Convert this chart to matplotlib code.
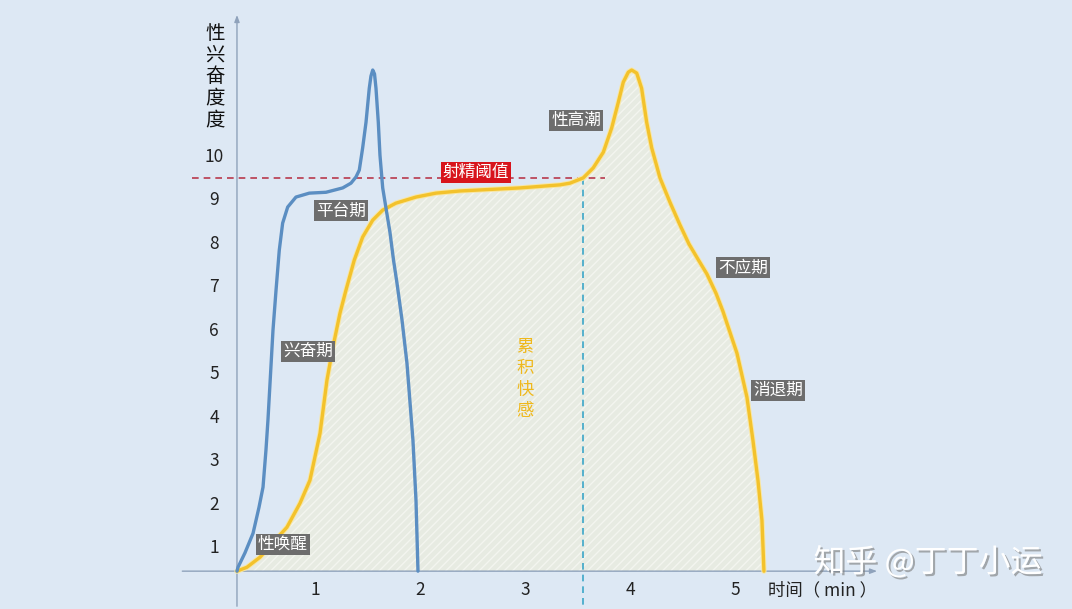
import matplotlib
matplotlib.use("Agg")
import matplotlib.pyplot as plt
import matplotlib.patheffects as pe

plt.rcParams['font.family'] = ['Noto Sans CJK SC', 'DejaVu Sans']
plt.rcParams['hatch.linewidth'] = 1.0

# 蓝色曲线（男性）
blue_x = [0.257, 0.267, 0.333, 0.410, 0.467, 0.505, 0.533, 0.552, 0.600, 0.629, 0.660, 0.692,
          0.740, 0.819, 0.946, 1.105, 1.264, 1.343, 1.390, 1.422, 1.454, 1.486, 1.517,
          1.533, 1.550, 1.567, 1.581, 1.603, 1.619, 1.645, 1.676, 1.714, 1.748, 1.781,
          1.829, 1.876, 1.933, 1.962, 1.981]
blue_y = [0.47, 0.56, 0.89, 1.34, 1.94, 2.40, 3.25, 3.94, 6.01, 6.93, 7.85, 8.47,
          8.84, 9.07, 9.16, 9.18, 9.28, 9.39, 9.53, 9.69, 10.20, 10.79, 11.57,
          11.85, 11.99, 11.90, 11.57, 10.79, 10.03, 9.28, 8.82, 8.26, 7.62, 7.09,
          6.24, 5.25, 3.48, 2.10, 0.47]

# 黄色曲线（累积快感）
yellow_x = [0.257, 0.352, 0.476, 0.733, 0.857, 0.952, 1.048, 1.114, 1.171, 1.238, 1.295,
            1.374, 1.454, 1.550, 1.645, 1.771, 1.962, 2.152, 2.381, 2.952, 3.333, 3.429,
            3.555, 3.650, 3.746, 3.826, 3.889, 3.936, 3.984, 4.016, 4.064, 4.111, 4.159,
            4.207, 4.286, 4.381, 4.476, 4.562, 4.648, 4.733, 4.819, 4.886, 5.019, 5.114,
            5.171, 5.219, 5.257, 5.276]
yellow_y = [0.47, 0.56, 0.79, 1.48, 2.03, 2.56, 3.64, 4.86, 5.62, 6.40, 6.93,
            7.62, 8.15, 8.54, 8.77, 8.93, 9.07, 9.16, 9.21, 9.28, 9.35, 9.39,
            9.51, 9.74, 10.10, 10.66, 11.25, 11.71, 11.94, 11.99, 11.92, 11.57, 10.79,
            10.20, 9.51, 8.95, 8.43, 7.99, 7.64, 7.30, 6.86, 6.44, 5.48, 4.47,
            3.48, 2.56, 1.64, 0.47]

x_ticks = [1, 2, 3, 4, 5]
y_ticks = [1, 2, 3, 4, 5, 6, 7, 8, 9, 10]
threshold = 9.5
threshold_x = 3.55
baseline = 0.47
origin_x = 0.257

fig = plt.figure(figsize=(10.72, 6.09), dpi=100)
fig.patch.set_facecolor('#dde8f4')
ax = fig.add_axes([0, 0, 1, 1])
ax.set_facecolor('#dde8f4')
ax.set_xlim(-2.0, 8.21)
ax.set_ylim(-0.40, 13.6)
ax.axis('off')

# 填充区域
ax.fill_between(yellow_x, yellow_y, baseline, facecolor='#e7ebe2', edgecolor='#f3f5ef',
                hatch='////', linewidth=0, zorder=1)

# 坐标轴
ax.annotate('', xy=(6.38, baseline), xytext=(-0.29, baseline),
            arrowprops=dict(arrowstyle='-|>,head_length=0.4,head_width=0.15', color='#8fa2bb', lw=1),
            zorder=2)
ax.annotate('', xy=(origin_x, 13.32), xytext=(origin_x, -0.40),
            arrowprops=dict(arrowstyle='-|>,head_length=0.4,head_width=0.15', color='#8fa2bb', lw=1),
            zorder=2)

# 阈值线
ax.plot([-0.17, 3.76], [threshold, threshold], color='#b8394d', lw=1.2,
        dashes=(4, 3), zorder=2)
ax.plot([threshold_x, threshold_x], [threshold, -0.40], color='#3ba6c8', lw=1.2,
        dashes=(4, 3), zorder=2)

# 曲线
ax.plot(yellow_x, yellow_y, color='#f3c22c', lw=2.4, solid_joinstyle='round',
        solid_capstyle='round', zorder=3,
        path_effects=[pe.Stroke(linewidth=3.8, foreground='#f8e7a6'), pe.Normal()])
ax.plot(blue_x, blue_y, color='#5b8ec2', lw=2.4, solid_joinstyle='round',
        solid_capstyle='round', zorder=4)

# 刻度标签
for t in x_ticks:
    ax.text(t, 0.03, str(t), ha='center', va='center', fontsize=12.5, color='#222222')
for t in y_ticks:
    ax.text(0.04, t, str(t), ha='center', va='center', fontsize=12.5, color='#222222')

ax.text(5.83, 0.03, '时间（ min ）', ha='center', va='center', fontsize=12.5, color='#222222')

# 纵轴标题（竖排）
for i, ch in enumerate('性兴奋度度'):
    ax.text(0.048, 12.84 - i * 0.5, ch, ha='center', va='center', fontsize=14, color='#111111')

# 阶段标签
gray_box = dict(boxstyle='square,pad=0.12', facecolor='#6d6d6d', edgecolor='none')
stage_labels = [('性唤醒', 0.695, 1.09), ('兴奋期', 0.933, 5.53), ('平台期', 1.248, 8.75),
                ('性高潮', 3.486, 10.82), ('不应期', 5.076, 7.44), ('消退期', 5.410, 4.63)]
for s, x, y in stage_labels:
    ax.text(x, y, s, ha='center', va='center', fontsize=12, color='white',
            bbox=gray_box, zorder=6)

ax.text(2.533, 9.64, '射精阈值', ha='center', va='center', fontsize=12, color='white',
        bbox=dict(boxstyle='square,pad=0.12', facecolor='#d8141c', edgecolor='none'), zorder=6)

for i, ch in enumerate('累积快感'):
    ax.text(3.0, 5.62 - i * 0.49, ch, ha='center', va='center', fontsize=12.5,
            color='#efb81c', zorder=6)

# 水印
ax.text(6.84, 0.66, '知乎 @丁丁小运', ha='center', va='center', fontsize=23,
        color='white', zorder=7,
        path_effects=[pe.withSimplePatchShadow(offset=(1.5, -1.5), shadow_rgbFace='#7a7a7a', alpha=0.6)])

fig.savefig('out.png', dpi=100, facecolor=fig.get_facecolor())
